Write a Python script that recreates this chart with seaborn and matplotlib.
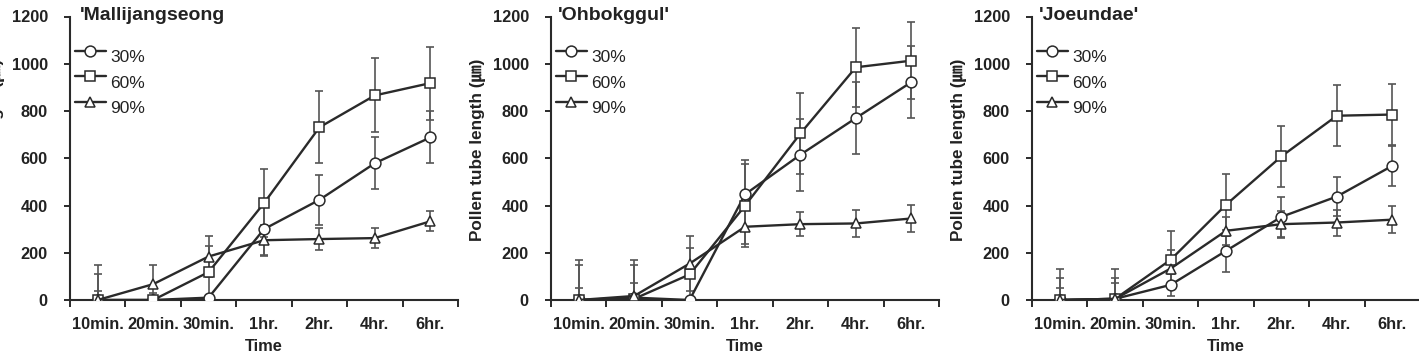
import numpy as np
import pandas as pd
import matplotlib
matplotlib.use("Agg")
import matplotlib.pyplot as plt
import seaborn as sns

# ---------------- data ----------------
times = ["10min.", "20min.", "30min.", "1hr.", "2hr.", "4hr.", "6hr."]
series = ["30%", "60%", "90%"]
titles = ["'Mallijangseong", "'Ohbokggul'", "'Joeundae'"]

mal_30 = [0, 0, 10, 300, 424, 579, 688]
mal_60 = [0, 0, 118, 410, 731, 866, 918]
mal_90 = [0, 67, 184, 253, 258, 262, 333]
mal_30_err = [40, 0, 10, 110, 105, 111, 110]
mal_60_err = [110, 30, 110, 145, 153, 157, 155]
mal_90_err = [150, 80, 85, 65, 48, 43, 43]

ohb_30 = [0, 10, 0, 447, 615, 770, 922]
ohb_60 = [0, 5, 108, 399, 705, 985, 1013]
ohb_90 = [0, 17, 154, 310, 321, 324, 345]
ohb_30_err = [52, 63, 0, 146, 153, 152, 152]
ohb_60_err = [148, 143, 110, 176, 170, 167, 163]
ohb_90_err = [168, 151, 117, 75, 52, 56, 58]

joe_30 = [0, 5, 64, 208, 352, 438, 568]
joe_60 = [0, 5, 170, 403, 608, 780, 785]
joe_90 = [0, 5, 133, 293, 321, 328, 340]
joe_30_err = [52, 65, 47, 88, 85, 81, 85]
joe_60_err = [130, 125, 123, 130, 130, 130, 130]
joe_90_err = [95, 90, 80, 60, 57, 55, 58]

panels = [
    (titles[0], [mal_30, mal_60, mal_90], [mal_30_err, mal_60_err, mal_90_err]),
    (titles[1], [ohb_30, ohb_60, ohb_90], [ohb_30_err, ohb_60_err, ohb_90_err]),
    (titles[2], [joe_30, joe_60, joe_90], [joe_30_err, joe_60_err, joe_90_err]),
]

# ---------------- style ----------------
sns.set_style("ticks")
plt.rcParams["font.family"] = ["Liberation Sans", "Noto Sans CJK KR", "DejaVu Sans"]
DARK = "#2a2a2a"
ERR = "#555555"
markers = {"30%": "o", "60%": "s", "90%": "^"}

fig = plt.figure(figsize=(14.19, 3.51), dpi=100)
W, H = 1419.0, 351.0
lefts = [70, 551, 1032]
aw = 388
y0px, ytop = 300, 16.5

for (title, vals, errs), lp in zip(panels, lefts):
    ax = fig.add_axes([lp / W, 1 - y0px / H, aw / W, (y0px - ytop) / H])
    x = np.arange(len(times))
    rows = []
    for s, v in zip(series, vals):
        for xi, vi in zip(x, v):
            rows.append({"pos": xi, "value": vi, "RH": s})
    df = pd.DataFrame(rows)

    for s, v, e in zip(series, vals, errs):
        ax.errorbar(x, v, yerr=e, fmt="none", ecolor=ERR, elinewidth=1.2,
                    capsize=2.6, capthick=1.2, zorder=2)

    sns.lineplot(data=df, x="pos", y="value", hue="RH", style="RH",
                 palette={s: DARK for s in series}, markers=markers,
                 dashes=False, linewidth=1.7, markersize=7.8,
                 markerfacecolor="white", markeredgecolor=DARK,
                 markeredgewidth=1.1, ax=ax, zorder=3, legend=True)

    ax.set_xlim(-0.5, len(times) - 0.5)
    ax.set_ylim(0, 1200)
    ax.set_yticks(np.arange(0, 1201, 200))
    ax.set_xticks(x)
    ax.set_xticklabels(times)
    ax.set_xticks(np.arange(-0.5, len(times), 1.0), minor=True)
    ax.tick_params(axis="x", which="major", length=0, pad=12,
                   labelsize=11.8, colors="#222222")
    ax.tick_params(axis="x", which="minor", length=5, width=1.4,
                   direction="out", color=DARK)
    ax.tick_params(axis="y", length=4, width=1.4, pad=12,
                   labelsize=11.8, colors="#222222", color=DARK)
    for lab in ax.get_xticklabels() + ax.get_yticklabels():
        lab.set_fontweight("bold")

    sns.despine(ax=ax)
    for sp in ("left", "bottom"):
        ax.spines[sp].set_linewidth(1.5)
        ax.spines[sp].set_color(DARK)

    ax.set_xlabel("Time", fontsize=11.8, fontweight="bold", labelpad=5,
                  color="#222222")
    ax.set_ylabel("Pollen tube length (㎛)", fontsize=12.3, fontweight="bold",
                  color="#222222")
    ax.yaxis.set_label_coords(-0.168, 0.53)

    ax.text(0.018 if lp > 100 else 0.026, 1.005, title, transform=ax.transAxes,
            fontsize=14, fontweight="bold", va="center", ha="left",
            color="#222222")

    handles, labels = ax.get_legend_handles_labels()
    leg = ax.legend(handles, labels, loc="upper left",
                    bbox_to_anchor=(0.012, 0.9), frameon=False,
                    fontsize=12.5, handlelength=1.8, handletextpad=0.25,
                    labelspacing=0.6, borderpad=0, borderaxespad=0)
    for t in leg.get_texts():
        t.set_color("#222222")
        t.set_y(-5)

fig.savefig("out.png", dpi=100, facecolor="white")
